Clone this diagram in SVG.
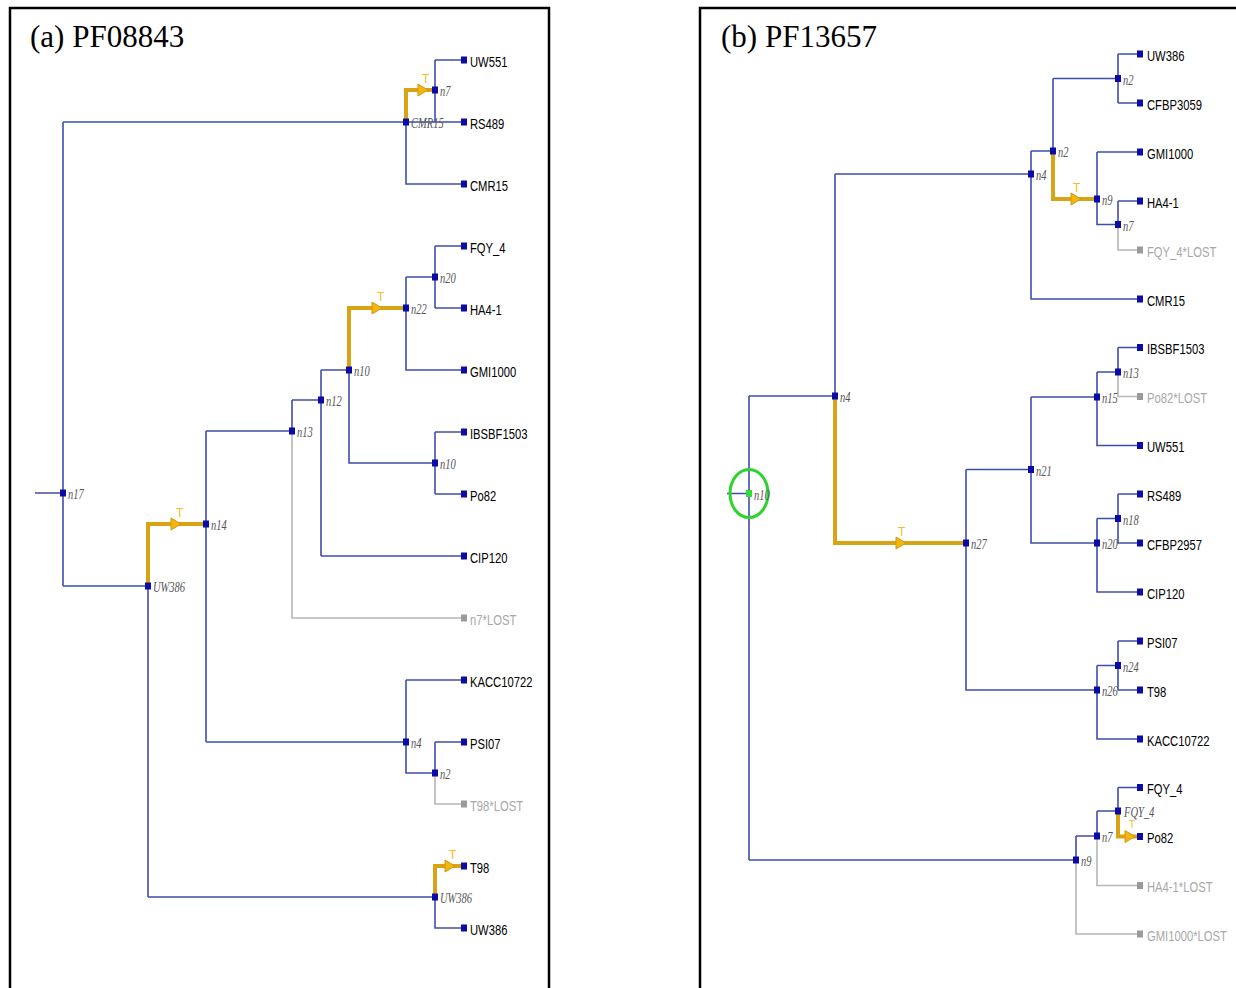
<svg xmlns="http://www.w3.org/2000/svg" width="1236" height="988" viewBox="0 0 1236 988">
<style>
.b{stroke:#3f4eaa;stroke-width:1.6;fill:none}
.g{stroke:#b6b6b6;stroke-width:1.6;fill:none}
.t{stroke:#d8a416;stroke-width:4;fill:none;stroke-linejoin:miter}
.arr{fill:#f4b50e;stroke:#d09a10;stroke-width:1}
.nd{fill:#0b0ba6}
.ndg{fill:#9a9a9a}
.lb{font-family:"Liberation Sans",Arial,sans-serif;font-size:15px;fill:#000}
.lbg{font-family:"Liberation Sans",Arial,sans-serif;font-size:15px;fill:#a8a8a8}
.il{font-family:"Liberation Serif","Times New Roman",serif;font-style:italic;font-size:14px;fill:#555}
.tt{font-family:"Liberation Sans",Arial,sans-serif;font-size:12px;fill:#efbe22}
.title{font-family:"Liberation Serif","Times New Roman",serif;font-size:31px;fill:#000}
.frame{fill:none;stroke:#000;stroke-width:2.5}
</style>
<rect width="1236" height="988" fill="#fff"/>
<rect class="frame" x="10" y="8" width="539" height="1000"/>
<rect class="frame" x="700" y="8" width="560" height="1000"/>
<text class="title" x="30" y="47">(a) PF08843</text>
<text class="title" x="721" y="47">(b) PF13657</text>

<g id="connectors">
<path class="b" d="M35,493H63 M63,122V586 M63,122H464 M406,122V184H464 M435,60V122 M435,60H464 M63,586H148 M148,586V897 M206,431V742 M206,431H292 M206,742H406 M292,400V431 M292,400H321 M321,370V556 M321,370H349 M321,556H464 M349,370V463H435 M406,277V370H464 M406,277H435 M435,246V308 M435,246H464 M435,308H464 M435,432V494 M435,432H464 M435,494H464 M406,680V773H435 M406,680H464 M435,742V773 M435,742H464 M148,897H435V928H464"/>
<path class="g" d="M292,431V618H464 M435,773V804H464"/>
<path class="t" d="M406,122V90H435 M148,586V524H206 M349,370V308H406 M435,897V866H464"/>
<path class="arr" d="M418,84L428,90L418,96Z M171,518L181,524L171,530Z M372,302L382,308L372,314Z M445,860L455,866L445,872Z"/>
<text class="tt" x="422" y="83">T</text>
<text class="tt" x="176" y="517">T</text>
<text class="tt" x="377" y="301">T</text>
<text class="tt" x="449" y="859">T</text>
<path class="b" d="M727,493.5H749 M749,396V860 M749,396H835 M835,174V396 M835,174H1031 M1031,151V299H1140 M1031,151H1053 M1053,78.5V151 M1053,78.5H1118 M1118,54V103 M1118,54H1140 M1118,103H1140 M1097,152V224.5H1118 M1097,152H1140 M1118,201V224.5 M1118,201H1140 M966,469.5V690H1097 M966,469.5H1031 M1031,397V543H1097 M1031,397H1097 M1097,372V445.5H1140 M1097,372H1118 M1118,347.5V372 M1118,347.5H1140 M1097,518.5V592H1140 M1097,518.5H1118 M1118,494V543H1140 M1118,494H1140 M1097,665.5V739H1140 M1097,665.5H1118 M1118,641V690H1140 M1118,641H1140 M749,860H1076 M1076,836V860 M1076,836H1097 M1097,811V836 M1097,811H1118 M1118,787.5V811 M1118,787.5H1140"/>
<path class="g" d="M1118,224.5V250H1140 M1118,372V396.5H1140 M1076,860V934H1140 M1097,836V885.5H1140"/>
<path class="t" d="M1053,151V199H1097 M835,396V543H966 M1118,811V836.5H1140"/>
<path class="arr" d="M1071,193L1081,199L1071,205Z M896,537L906,543L896,549Z M1125,830.5L1135,836.5L1125,842.5Z"/>
<text class="tt" x="1073" y="192">T</text>
<text class="tt" x="898" y="536">T</text>
<text class="tt" x="1129" y="828" style="font-size:10px">T</text>
</g>

<g id="a-n7"><rect class="nd" x="432" y="86.5" width="6" height="7"/><text class="il" transform="translate(440,96) scale(0.75,1)">n7</text></g>
<g id="a-CMR15node"><rect class="nd" x="403" y="118.5" width="6" height="7"/><text class="il" transform="translate(411,128) scale(0.75,1)">CMR15</text></g>
<g id="a-n20"><rect class="nd" x="432" y="273.5" width="6" height="7"/><text class="il" transform="translate(440,283) scale(0.75,1)">n20</text></g>
<g id="a-n22"><rect class="nd" x="403" y="304.5" width="6" height="7"/><text class="il" transform="translate(411,314) scale(0.75,1)">n22</text></g>
<g id="a-n10"><rect class="nd" x="346" y="366.5" width="6" height="7"/><text class="il" transform="translate(354,376) scale(0.75,1)">n10</text></g>
<g id="a-n12"><rect class="nd" x="318" y="396.5" width="6" height="7"/><text class="il" transform="translate(326,406) scale(0.75,1)">n12</text></g>
<g id="a-n13"><rect class="nd" x="289" y="427.5" width="6" height="7"/><text class="il" transform="translate(297,437) scale(0.75,1)">n13</text></g>
<g id="a-n10b"><rect class="nd" x="432" y="459.5" width="6" height="7"/><text class="il" transform="translate(440,469) scale(0.75,1)">n10</text></g>
<g id="a-n17"><rect class="nd" x="60" y="489.5" width="6" height="7"/><text class="il" transform="translate(68,499) scale(0.75,1)">n17</text></g>
<g id="a-n14"><rect class="nd" x="203" y="520.5" width="6" height="7"/><text class="il" transform="translate(211,530) scale(0.75,1)">n14</text></g>
<g id="a-UW386node"><rect class="nd" x="145" y="582.5" width="6" height="7"/><text class="il" transform="translate(153,592) scale(0.75,1)">UW386</text></g>
<g id="a-n4"><rect class="nd" x="403" y="738.5" width="6" height="7"/><text class="il" transform="translate(411,748) scale(0.75,1)">n4</text></g>
<g id="a-n2"><rect class="nd" x="432" y="769.5" width="6" height="7"/><text class="il" transform="translate(440,779) scale(0.75,1)">n2</text></g>
<g id="a-UW386node2"><rect class="nd" x="432" y="893.5" width="6" height="7"/><text class="il" transform="translate(440,903) scale(0.75,1)">UW386</text></g>

<g id="a-UW551"><rect class="nd" x="461" y="56.5" width="6" height="7"/><text class="lb" transform="translate(470,66.5) scale(0.75,1)">UW551</text></g>
<g id="a-RS489"><rect class="nd" x="461" y="118.5" width="6" height="7"/><text class="lb" transform="translate(470,128.5) scale(0.75,1)">RS489</text></g>
<g id="a-CMR15"><rect class="nd" x="461" y="180.5" width="6" height="7"/><text class="lb" transform="translate(470,190.5) scale(0.75,1)">CMR15</text></g>
<g id="a-FQY_4"><rect class="nd" x="461" y="242.5" width="6" height="7"/><text class="lb" transform="translate(470,252.5) scale(0.75,1)">FQY_4</text></g>
<g id="a-HA4-1"><rect class="nd" x="461" y="304.5" width="6" height="7"/><text class="lb" transform="translate(470,314.5) scale(0.75,1)">HA4-1</text></g>
<g id="a-GMI1000"><rect class="nd" x="461" y="366.5" width="6" height="7"/><text class="lb" transform="translate(470,376.5) scale(0.75,1)">GMI1000</text></g>
<g id="a-IBSBF1503"><rect class="nd" x="461" y="428.5" width="6" height="7"/><text class="lb" transform="translate(470,438.5) scale(0.75,1)">IBSBF1503</text></g>
<g id="a-Po82"><rect class="nd" x="461" y="490.5" width="6" height="7"/><text class="lb" transform="translate(470,500.5) scale(0.75,1)">Po82</text></g>
<g id="a-CIP120"><rect class="nd" x="461" y="552.5" width="6" height="7"/><text class="lb" transform="translate(470,562.5) scale(0.75,1)">CIP120</text></g>
<g id="a-n7LOST"><rect class="ndg" x="461" y="614.5" width="6" height="7"/><text class="lbg" transform="translate(470,624.5) scale(0.75,1)">n7*LOST</text></g>
<g id="a-KACC10722"><rect class="nd" x="461" y="676.5" width="6" height="7"/><text class="lb" transform="translate(470,686.5) scale(0.75,1)">KACC10722</text></g>
<g id="a-PSI07"><rect class="nd" x="461" y="738.5" width="6" height="7"/><text class="lb" transform="translate(470,748.5) scale(0.75,1)">PSI07</text></g>
<g id="a-T98LOST"><rect class="ndg" x="461" y="800.5" width="6" height="7"/><text class="lbg" transform="translate(470,810.5) scale(0.75,1)">T98*LOST</text></g>
<g id="a-T98"><rect class="nd" x="461" y="862.5" width="6" height="7"/><text class="lb" transform="translate(470,872.5) scale(0.75,1)">T98</text></g>
<g id="a-UW386"><rect class="nd" x="461" y="924.5" width="6" height="7"/><text class="lb" transform="translate(470,934.5) scale(0.75,1)">UW386</text></g>

<g id="b-n2top"><rect class="nd" x="1115" y="75" width="6" height="7"/><text class="il" transform="translate(1123,84.5) scale(0.75,1)">n2</text></g>
<g id="b-n2"><rect class="nd" x="1050" y="147.5" width="6" height="7"/><text class="il" transform="translate(1058,157) scale(0.75,1)">n2</text></g>
<g id="b-n4top"><rect class="nd" x="1028" y="170.5" width="6" height="7"/><text class="il" transform="translate(1036,180) scale(0.75,1)">n4</text></g>
<g id="b-n9top"><rect class="nd" x="1094" y="195.5" width="6" height="7"/><text class="il" transform="translate(1102,205) scale(0.75,1)">n9</text></g>
<g id="b-n7top"><rect class="nd" x="1115" y="221" width="6" height="7"/><text class="il" transform="translate(1123,230.5) scale(0.75,1)">n7</text></g>
<g id="b-n4"><rect class="nd" x="832" y="392.5" width="6" height="7"/><text class="il" transform="translate(840,402) scale(0.75,1)">n4</text></g>
<g id="b-n10"><ellipse cx="749" cy="493.5" rx="19" ry="24" fill="none" stroke="#2fd22f" stroke-width="3"/><rect x="746" y="490" width="6" height="7" fill="#33dd33"/><text class="il" transform="translate(754,499.5) scale(0.75,1)">n10</text></g>
<g id="b-n27"><rect class="nd" x="963" y="539.5" width="6" height="7"/><text class="il" transform="translate(971,549) scale(0.75,1)">n27</text></g>
<g id="b-n21"><rect class="nd" x="1028" y="466" width="6" height="7"/><text class="il" transform="translate(1036,475.5) scale(0.75,1)">n21</text></g>
<g id="b-n13"><rect class="nd" x="1115" y="368.5" width="6" height="7"/><text class="il" transform="translate(1123,378) scale(0.75,1)">n13</text></g>
<g id="b-n15"><rect class="nd" x="1094" y="393.5" width="6" height="7"/><text class="il" transform="translate(1102,403) scale(0.75,1)">n15</text></g>
<g id="b-n18"><rect class="nd" x="1115" y="515" width="6" height="7"/><text class="il" transform="translate(1123,524.5) scale(0.75,1)">n18</text></g>
<g id="b-n20"><rect class="nd" x="1094" y="539.5" width="6" height="7"/><text class="il" transform="translate(1102,549) scale(0.75,1)">n20</text></g>
<g id="b-n24"><rect class="nd" x="1115" y="662" width="6" height="7"/><text class="il" transform="translate(1123,671.5) scale(0.75,1)">n24</text></g>
<g id="b-n26"><rect class="nd" x="1094" y="686.5" width="6" height="7"/><text class="il" transform="translate(1102,696) scale(0.75,1)">n26</text></g>
<g id="b-n9"><rect class="nd" x="1073" y="856.5" width="6" height="7"/><text class="il" transform="translate(1081,866) scale(0.75,1)">n9</text></g>
<g id="b-n7"><rect class="nd" x="1094" y="832.5" width="6" height="7"/><text class="il" transform="translate(1102,842) scale(0.75,1)">n7</text></g>
<g id="b-FQY_4node"><rect class="nd" x="1115" y="807.5" width="6" height="7"/><text class="il" transform="translate(1124,817) scale(0.75,1)">FQY_4</text></g>

<g id="b-UW386"><rect class="nd" x="1137" y="50.5" width="6" height="7"/><text class="lb" transform="translate(1147,60.5) scale(0.75,1)">UW386</text></g>
<g id="b-CFBP3059"><rect class="nd" x="1137" y="99.5" width="6" height="7"/><text class="lb" transform="translate(1147,109.5) scale(0.75,1)">CFBP3059</text></g>
<g id="b-GMI1000"><rect class="nd" x="1137" y="148.5" width="6" height="7"/><text class="lb" transform="translate(1147,158.5) scale(0.75,1)">GMI1000</text></g>
<g id="b-HA4-1"><rect class="nd" x="1137" y="197.5" width="6" height="7"/><text class="lb" transform="translate(1147,207.5) scale(0.75,1)">HA4-1</text></g>
<g id="b-FQY_4LOST"><rect class="ndg" x="1137" y="246.5" width="6" height="7"/><text class="lbg" transform="translate(1147,256.5) scale(0.75,1)">FQY_4*LOST</text></g>
<g id="b-CMR15"><rect class="nd" x="1137" y="295.5" width="6" height="7"/><text class="lb" transform="translate(1147,305.5) scale(0.75,1)">CMR15</text></g>
<g id="b-IBSBF1503"><rect class="nd" x="1137" y="344" width="6" height="7"/><text class="lb" transform="translate(1147,354) scale(0.75,1)">IBSBF1503</text></g>
<g id="b-Po82LOST"><rect class="ndg" x="1137" y="393" width="6" height="7"/><text class="lbg" transform="translate(1147,403) scale(0.75,1)">Po82*LOST</text></g>
<g id="b-UW551"><rect class="nd" x="1137" y="442" width="6" height="7"/><text class="lb" transform="translate(1147,452) scale(0.75,1)">UW551</text></g>
<g id="b-RS489"><rect class="nd" x="1137" y="490.5" width="6" height="7"/><text class="lb" transform="translate(1147,500.5) scale(0.75,1)">RS489</text></g>
<g id="b-CFBP2957"><rect class="nd" x="1137" y="539.5" width="6" height="7"/><text class="lb" transform="translate(1147,549.5) scale(0.75,1)">CFBP2957</text></g>
<g id="b-CIP120"><rect class="nd" x="1137" y="588.5" width="6" height="7"/><text class="lb" transform="translate(1147,598.5) scale(0.75,1)">CIP120</text></g>
<g id="b-PSI07"><rect class="nd" x="1137" y="637.5" width="6" height="7"/><text class="lb" transform="translate(1147,647.5) scale(0.75,1)">PSI07</text></g>
<g id="b-T98"><rect class="nd" x="1137" y="686.5" width="6" height="7"/><text class="lb" transform="translate(1147,696.5) scale(0.75,1)">T98</text></g>
<g id="b-KACC10722"><rect class="nd" x="1137" y="735.5" width="6" height="7"/><text class="lb" transform="translate(1147,745.5) scale(0.75,1)">KACC10722</text></g>
<g id="b-FQY_4"><rect class="nd" x="1137" y="784" width="6" height="7"/><text class="lb" transform="translate(1147,794) scale(0.75,1)">FQY_4</text></g>
<g id="b-Po82"><rect class="nd" x="1137" y="833" width="6" height="7"/><text class="lb" transform="translate(1147,843) scale(0.75,1)">Po82</text></g>
<g id="b-HA4-1LOST"><rect class="ndg" x="1137" y="882" width="6" height="7"/><text class="lbg" transform="translate(1147,892) scale(0.75,1)">HA4-1*LOST</text></g>
<g id="b-GMI1000LOST"><rect class="ndg" x="1137" y="930.5" width="6" height="7"/><text class="lbg" transform="translate(1147,940.5) scale(0.75,1)">GMI1000*LOST</text></g>
</svg>
